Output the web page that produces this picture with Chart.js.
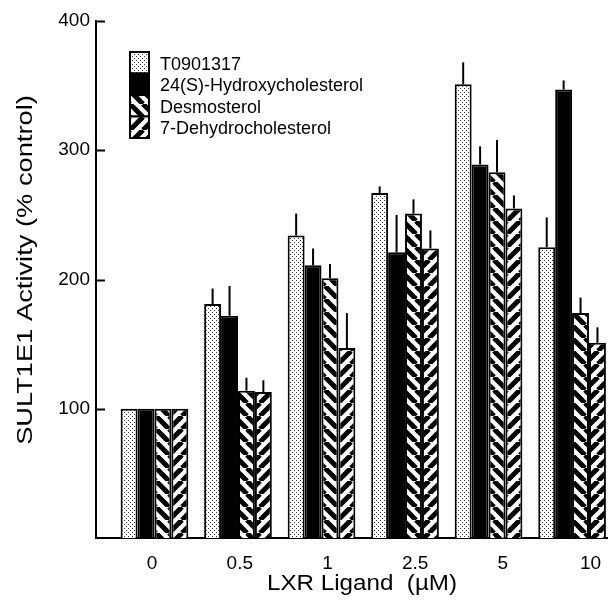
<!DOCTYPE html>
<html>
<head>
<meta charset="utf-8">
<style>
  html, body { margin: 0; padding: 0; background: #fff; }
  #wrap { width: 608px; height: 604px; }
</style>
</head>
<body>
<div id="wrap"><canvas id="chart" width="608" height="604"></canvas></div>
<script src="https://cdn.jsdelivr.net/npm/chart.js@4.4.1/dist/chart.umd.min.js"></script>
<script>
// LXR ligand doses (uM)
const doses = ['0', '0.5', '1', '2.5', '5', '10'];

// SULT1E1 activity, % of control, and upper error (SD)
const t0901317 = [100, 181, 234, 267, 351, 225];
const t0901317Err = [0, 12, 17, 5, 17, 23];
const hydroxychol = [100, 172, 211, 221, 289, 347];
const hydroxycholErr = [0, 23, 13, 29, 14, 7];
const desmosterol = [100, 114, 201, 251, 283, 174];
const desmosterolErr = [0, 10, 11, 11, 25, 12];
const dehydrochol = [100, 113, 147, 224, 255, 151];
const dehydrocholErr = [0, 9, 27, 14, 10, 12];

const yTicks = [100, 200, 300, 400];

const canvas = document.getElementById('chart');
const ctx = canvas.getContext('2d');

function makePattern(kind) {
    const s = kind === 'dots' ? 4 : 13;
    const c = document.createElement('canvas');
    c.width = s;
    c.height = s;
    const g = c.getContext('2d');
    g.fillStyle = '#fff';
    g.fillRect(0, 0, s, s);
    if (kind === 'dots') {
        g.fillStyle = '#333';
        g.fillRect(0, 0, 1, 1);
        g.fillRect(2, 2, 1, 1);
    } else {
        g.strokeStyle = '#000';
        g.lineWidth = 5;
        for (let k = -1; k <= 1; k++) {
            g.beginPath();
            if (kind === 'back') {
                g.moveTo(k * s, 0);
                g.lineTo(k * s + s, s);
            } else {
                g.moveTo(k * s, s);
                g.lineTo(k * s + s, 0);
            }
            g.stroke();
        }
    }
    return ctx.createPattern(c, 'repeat');
}

const toPoints = vals => vals.map((v, i) => ({ x: i, y: v }));

function series(label, vals, errs, fill) {
    return {
        label: label,
        data: toPoints(vals),
        errors: errs,
        backgroundColor: fill,
        borderColor: '#000',
        borderWidth: 2,
        categoryPercentage: 0.81,
        barPercentage: 1.0
    };
}

// vertical error lines (upper only, no caps)
const errorBars = {
    id: 'errorBars',
    afterDatasetsDraw(chart) {
        const c = chart.ctx;
        const y = chart.scales.y;
        c.save();
        c.strokeStyle = '#000';
        c.lineWidth = 2;
        chart.data.datasets.forEach((ds, di) => {
            chart.getDatasetMeta(di).data.forEach((bar, i) => {
                const e = ds.errors[i];
                if (!e) return;
                c.beginPath();
                c.moveTo(bar.x, bar.y);
                c.lineTo(bar.x, y.getPixelForValue(ds.data[i].y + e));
                c.stroke();
            });
        });
        c.restore();
    }
};

// inward y ticks, titles, legend
const decorations = {
    id: 'decorations',
    afterDraw(chart) {
        const c = chart.ctx;
        const area = chart.chartArea;
        const y = chart.scales.y;
        c.save();
        c.strokeStyle = '#000';
        c.lineWidth = 2;
        yTicks.forEach(v => {
            const py = Math.round(y.getPixelForValue(v)) + 0.5;
            c.beginPath();
            c.moveTo(area.left, py);
            c.lineTo(area.left + 9, py);
            c.stroke();
        });

        c.fillStyle = '#000';
        c.font = '22px "Liberation Sans", Arial, sans-serif';
        c.textAlign = 'center';
        c.textBaseline = 'middle';
        // the source figure is a little stretched, so are its titles
        c.save();
        c.translate(362, 584);
        c.scale(1.1, 1);
        c.fillText('LXR Ligand  (\u00b5M)', 0, 0);
        c.restore();

        c.save();
        c.translate(26, 270);
        c.rotate(-Math.PI / 2);
        c.scale(1.24, 1);
        c.fillText('SULT1E1 Activity (% control)', 0, 0);
        c.restore();

        // legend: stacked swatches
        const bx = 130, bw = 19, bh = 21.5;
        let by = 52;
        c.font = '18px "Liberation Sans", Arial, sans-serif';
        c.textAlign = 'left';
        chart.data.datasets.forEach(ds => {
            c.fillStyle = ds.backgroundColor;
            c.fillRect(bx, by, bw, bh);
            c.lineWidth = 2;
            c.strokeRect(bx, by, bw, bh);
            c.fillStyle = '#000';
            c.fillText(ds.label, 160, by + bh / 2 + 2);
            by += bh;
        });
        c.restore();
    }
};

const integerTicks = scale => {
    scale.ticks = doses.map((d, i) => ({ value: i }));
};

new Chart(ctx, {
    type: 'bar',
    data: {
        datasets: [
            series('T0901317', t0901317, t0901317Err, makePattern('dots')),
            series('24(S)-Hydroxycholesterol', hydroxychol, hydroxycholErr, '#000'),
            series('Desmosterol', desmosterol, desmosterolErr, makePattern('back')),
            series('7-Dehydrocholesterol', dehydrochol, dehydrocholErr, makePattern('fwd'))
        ]
    },
    options: {
        responsive: false,
        animation: false,
        layout: { padding: { top: 21, right: 0, left: 0, bottom: 0 } },
        scales: {
            // bar positions
            x: {
                type: 'linear',
                position: 'bottom',
                offset: false,
                min: -0.70,
                max: 5.43,
                afterBuildTicks: integerTicks,
                afterFit: scale => { scale.height = 0; },
                grid: { display: false, drawTicks: false },
                border: { display: true, color: '#000', width: 2 },
                ticks: { display: false }
            },
            // dose labels sit a bit wider apart than the bars in the source
            xLabels: {
                type: 'linear',
                axis: 'x',
                position: 'bottom',
                offset: false,
                min: -0.64,
                max: 5.2,
                afterBuildTicks: integerTicks,
                afterFit: scale => {
                    scale.height = 66;
                    scale.paddingLeft = 0;
                    scale.paddingRight = 0;
                },
                grid: { display: false, drawTicks: false },
                border: { display: false },
                ticks: {
                    color: '#000',
                    padding: 14,
                    maxRotation: 0,
                    font: { family: '"Liberation Sans", Arial, sans-serif', size: 19 },
                    callback: (v, i) => doses[i]
                }
            },
            y: {
                min: 0,
                max: 400,
                afterBuildTicks: scale => {
                    scale.ticks = yTicks.map(v => ({ value: v }));
                },
                afterFit: scale => { scale.width = 96; },
                grid: { display: false, drawTicks: false },
                border: { display: true, color: '#000', width: 2 },
                ticks: {
                    color: '#000',
                    padding: 6,
                    font: { family: '"Liberation Sans", Arial, sans-serif', size: 19 }
                }
            }
        },
        plugins: {
            legend: { display: false },
            tooltip: { enabled: false }
        }
    },
    plugins: [errorBars, decorations]
});
</script>
</body>
</html>
